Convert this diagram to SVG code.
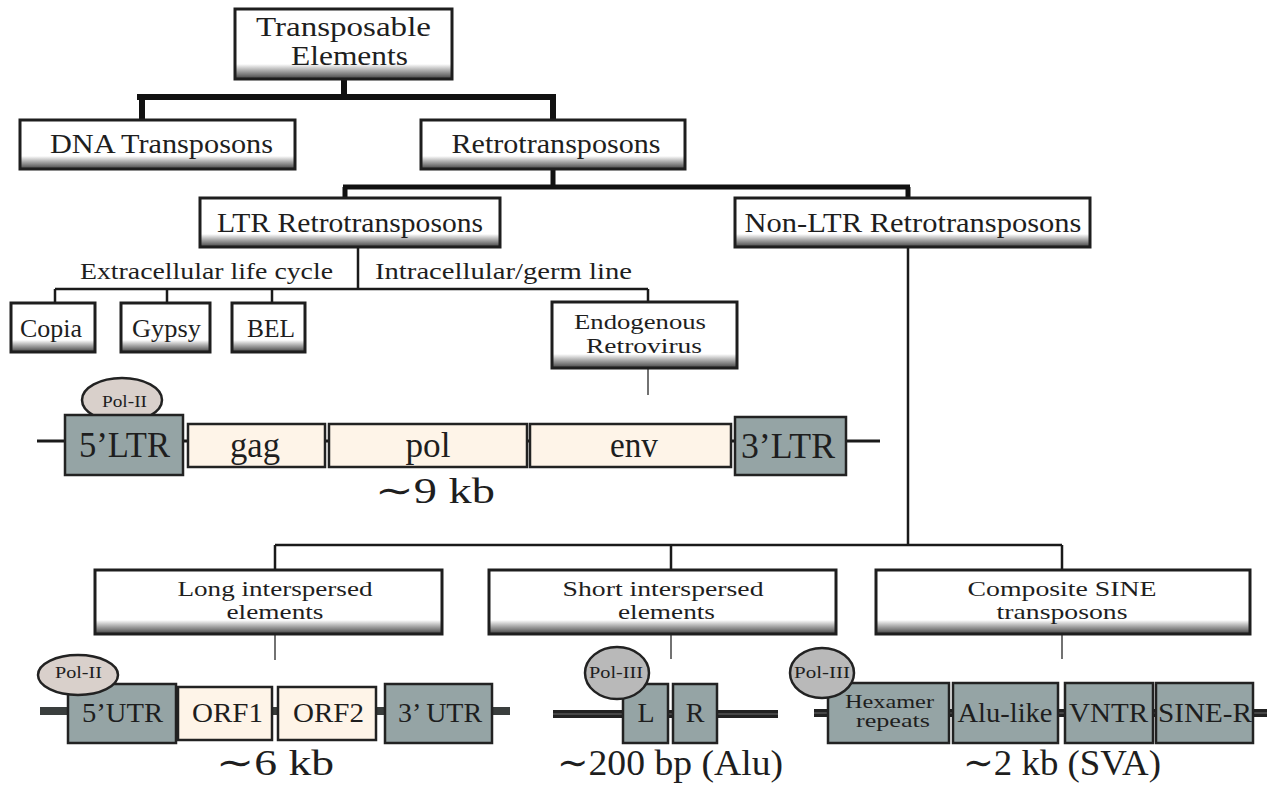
<svg xmlns="http://www.w3.org/2000/svg" width="1269" height="798" viewBox="0 0 1269 798">
<defs>
<linearGradient id="strip" x1="0" y1="0" x2="0" y2="1">
<stop offset="0" stop-color="#ffffff"/>
<stop offset="0.2" stop-color="#d8d8d8"/>
<stop offset="0.45" stop-color="#a8a8a8"/>
<stop offset="0.7" stop-color="#7a7a7a"/>
<stop offset="1" stop-color="#404040"/>
</linearGradient>
</defs>
<style>
text{font-family:"Liberation Serif","DejaVu Serif",serif;fill:#1e1e1e;text-anchor:middle}
.bx{fill:#fff}
.st{fill:url(#strip)}
.bd{fill:none;stroke:#1e1e1e;stroke-width:3}
.t28{font-size:28px}
.t25{font-size:25px}
.t22{font-size:22px}
.t24{font-size:24px}
.t19{font-size:19px}
.t17{font-size:17px}
.t36{font-size:36px}
.thick{stroke:#111;stroke-width:6;fill:none}
.thick2{stroke:#111;stroke-width:5;fill:none}
.thin{stroke:#1a1a1a;stroke-width:2.5;fill:none}
.hair{stroke:#444;stroke-width:1.5;fill:none}
.gr{fill:#95a4a5;stroke:#222;stroke-width:2.5}
.cr{fill:#fef4e8;stroke:#222;stroke-width:2.5}
.p2{fill:#d9d0cb;stroke:#222;stroke-width:2.5}
.p3{fill:#b9b9b9;stroke:#222;stroke-width:2.5}
.bl{stroke:#1a1a1a;stroke-width:3}
.bl2{stroke:#3a3e3d;stroke-width:8}
.bl3{stroke:#222;stroke-width:8}
.bl3c{stroke:#555;stroke-width:1.5}
</style>

<g id="connectors">
<path class="thick" d="M344 79V97M137 97H556M142 97V120M553 97V120"/>
<path class="thick2" d="M553 168V187M343 187H910M345 187V198M908 187V198"/>
<path class="thin" d="M358 247V289M55 289H648M55 289V303M167 289V303M272 289V303M648 289V302"/>
<path class="thin" d="M908 247V545M275 545H1062M275 545V570M671 545V570M1062 545V570"/>
<path class="hair" d="M648 368V395M275 634V660M671 634V659M1062 634V659"/>
</g>

<g id="n-te">
<rect class="bx" x="235" y="9" width="217" height="70"/>
<rect class="st" x="235" y="64" width="217" height="15"/>
<rect class="bd" x="235" y="9" width="217" height="70"/>
<text class="t28" x="343.5" y="36" textLength="175" lengthAdjust="spacingAndGlyphs">Transposable</text>
<text class="t28" x="349.5" y="65" textLength="117" lengthAdjust="spacingAndGlyphs">Elements</text>
</g>

<g id="n-dna">
<rect class="bx" x="20" y="120" width="275" height="49"/>
<rect class="st" x="20" y="156" width="275" height="13"/>
<rect class="bd" x="20" y="120" width="275" height="49"/>
<text class="t28" x="161.5" y="153" textLength="223" lengthAdjust="spacingAndGlyphs">DNA Transposons</text>
</g>

<g id="n-retro">
<rect class="bx" x="421" y="120" width="264" height="49"/>
<rect class="st" x="421" y="156" width="264" height="13"/>
<rect class="bd" x="421" y="120" width="264" height="49"/>
<text class="t28" x="556" y="153" textLength="209" lengthAdjust="spacingAndGlyphs">Retrotransposons</text>
</g>

<g id="n-ltr">
<rect class="bx" x="200" y="198" width="300" height="49"/>
<rect class="st" x="200" y="234" width="300" height="13"/>
<rect class="bd" x="200" y="198" width="300" height="49"/>
<text class="t28" x="350" y="232" textLength="266" lengthAdjust="spacingAndGlyphs">LTR Retrotransposons</text>
</g>

<g id="n-nonltr">
<rect class="bx" x="735" y="198" width="355" height="49"/>
<rect class="st" x="735" y="234" width="355" height="13"/>
<rect class="bd" x="735" y="198" width="355" height="49"/>
<text class="t28" x="913" y="232" textLength="337" lengthAdjust="spacingAndGlyphs">Non-LTR Retrotransposons</text>
</g>

<g id="labels-ltr">
<text class="t24" x="206.5" y="279" textLength="253" lengthAdjust="spacingAndGlyphs">Extracellular life cycle</text>
<text class="t24" x="503.5" y="279" textLength="257" lengthAdjust="spacingAndGlyphs">Intracellular/germ line</text>
</g>

<g id="n-copia">
<rect class="bx" x="11" y="303" width="84" height="49"/>
<rect class="st" x="11" y="340" width="84" height="12"/>
<rect class="bd" x="11" y="303" width="84" height="49"/>
<text class="t25" x="51" y="337" textLength="62" lengthAdjust="spacingAndGlyphs">Copia</text>
</g>

<g id="n-gypsy">
<rect class="bx" x="121" y="303" width="89" height="49"/>
<rect class="st" x="121" y="340" width="89" height="12"/>
<rect class="bd" x="121" y="303" width="89" height="49"/>
<text class="t25" x="166.5" y="337" textLength="69" lengthAdjust="spacingAndGlyphs">Gypsy</text>
</g>

<g id="n-bel">
<rect class="bx" x="232" y="303" width="73" height="49"/>
<rect class="st" x="232" y="340" width="73" height="12"/>
<rect class="bd" x="232" y="303" width="73" height="49"/>
<text class="t25" x="271" y="337" textLength="48" lengthAdjust="spacingAndGlyphs">BEL</text>
</g>

<g id="n-erv">
<rect class="bx" x="552" y="302" width="185" height="66"/>
<rect class="st" x="552" y="354" width="185" height="14"/>
<rect class="bd" x="552" y="302" width="185" height="66"/>
<text class="t22" x="640" y="329" textLength="132" lengthAdjust="spacingAndGlyphs">Endogenous</text>
<text class="t22" x="644" y="353" textLength="116" lengthAdjust="spacingAndGlyphs">Retrovirus</text>
</g>

<g id="erv-structure">
<line class="bl" x1="37" y1="441" x2="880" y2="441"/>
<ellipse class="p2" cx="122" cy="400" rx="40" ry="22"/>
<text class="t17" x="124.5" y="407" textLength="45" lengthAdjust="spacingAndGlyphs">Pol-II</text>
<rect class="gr" x="65" y="415" width="118" height="60"/>
<text class="t36" x="124.5" y="457" textLength="91" lengthAdjust="spacingAndGlyphs">5’LTR</text>
<rect class="cr" x="188" y="424" width="137" height="43"/>
<text class="t36" x="255" y="457" textLength="50" lengthAdjust="spacingAndGlyphs">gag</text>
<rect class="cr" x="329" y="424" width="198" height="43"/>
<text class="t36" x="428" y="457" textLength="45" lengthAdjust="spacingAndGlyphs">pol</text>
<rect class="cr" x="530" y="424" width="201" height="43"/>
<text class="t36" x="634" y="457" textLength="48" lengthAdjust="spacingAndGlyphs">env</text>
<rect class="gr" x="735" y="417" width="111" height="58"/>
<text class="t36" x="788" y="458" textLength="94" lengthAdjust="spacingAndGlyphs">3’LTR</text>
<text class="t36" x="435" y="503" textLength="120" lengthAdjust="spacingAndGlyphs">∼9 kb</text>
</g>

<g id="n-line">
<rect class="bx" x="95" y="570" width="347" height="64"/>
<rect class="st" x="95" y="620" width="347" height="14"/>
<rect class="bd" x="95" y="570" width="347" height="64"/>
<text class="t22" x="275" y="596" textLength="195" lengthAdjust="spacingAndGlyphs">Long interspersed</text>
<text class="t22" x="275" y="619" textLength="97" lengthAdjust="spacingAndGlyphs">elements</text>
</g>

<g id="n-sine">
<rect class="bx" x="489" y="570" width="347" height="64"/>
<rect class="st" x="489" y="620" width="347" height="14"/>
<rect class="bd" x="489" y="570" width="347" height="64"/>
<text class="t22" x="663" y="596" textLength="201" lengthAdjust="spacingAndGlyphs">Short interspersed</text>
<text class="t22" x="666.5" y="619" textLength="97" lengthAdjust="spacingAndGlyphs">elements</text>
</g>

<g id="n-sva">
<rect class="bx" x="876" y="570" width="374" height="64"/>
<rect class="st" x="876" y="620" width="374" height="14"/>
<rect class="bd" x="876" y="570" width="374" height="64"/>
<text class="t22" x="1062" y="596" textLength="189" lengthAdjust="spacingAndGlyphs">Composite SINE</text>
<text class="t22" x="1062" y="619" textLength="131" lengthAdjust="spacingAndGlyphs">transposons</text>
</g>

<g id="line-structure">
<line class="bl2" x1="40" y1="711" x2="510" y2="711"/>
<rect class="gr" x="68" y="684" width="108" height="59"/>
<text class="t28" x="122.5" y="722" textLength="81" lengthAdjust="spacingAndGlyphs">5’UTR</text>
<rect class="cr" x="178" y="687" width="94" height="53"/>
<text class="t28" x="227.5" y="722" textLength="71" lengthAdjust="spacingAndGlyphs">ORF1</text>
<rect class="cr" x="278" y="687" width="98" height="53"/>
<text class="t28" x="328.5" y="722" textLength="71" lengthAdjust="spacingAndGlyphs">ORF2</text>
<rect class="gr" x="385" y="684" width="107" height="59"/>
<text class="t28" x="440" y="722" textLength="84" lengthAdjust="spacingAndGlyphs">3’ UTR</text>
<ellipse class="p2" cx="78" cy="675" rx="40" ry="20"/>
<text class="t17" x="78.5" y="678" textLength="47" lengthAdjust="spacingAndGlyphs">Pol-II</text>
<text class="t36" x="275" y="775" textLength="118" lengthAdjust="spacingAndGlyphs">∼6 kb</text>
</g>

<g id="sine-structure">
<line class="bl3" x1="553" y1="714" x2="778" y2="714"/>
<line class="bl3c" x1="553" y1="714" x2="778" y2="714"/>
<rect class="gr" x="623" y="684" width="45" height="59"/>
<text class="t28" x="646" y="722">L</text>
<rect class="gr" x="673" y="684" width="44" height="59"/>
<text class="t28" x="695" y="722">R</text>
<ellipse class="p3" cx="617" cy="673" rx="32" ry="26"/>
<text class="t17" x="616" y="678" textLength="54" lengthAdjust="spacingAndGlyphs">Pol-III</text>
<text class="t36" x="670" y="775" textLength="226" lengthAdjust="spacingAndGlyphs">∼200 bp (Alu)</text>
</g>

<g id="sva-structure">
<line class="bl3" x1="814" y1="713" x2="1267" y2="713"/>
<line class="bl3c" x1="814" y1="713" x2="1267" y2="713"/>
<rect class="gr" x="828" y="683" width="121" height="60"/>
<text class="t19" x="889.5" y="708" textLength="89" lengthAdjust="spacingAndGlyphs">Hexamer</text>
<text class="t19" x="893" y="727" textLength="74" lengthAdjust="spacingAndGlyphs">repeats</text>
<rect class="gr" x="953" y="683" width="105" height="60"/>
<text class="t28" x="1005" y="722" textLength="95" lengthAdjust="spacingAndGlyphs">Alu-like</text>
<rect class="gr" x="1065" y="683" width="88" height="60"/>
<text class="t28" x="1108.5" y="722" textLength="79" lengthAdjust="spacingAndGlyphs">VNTR</text>
<rect class="gr" x="1156" y="683" width="97" height="60"/>
<text class="t28" x="1205" y="722" textLength="94" lengthAdjust="spacingAndGlyphs">SINE-R</text>
<ellipse class="p3" cx="822" cy="673" rx="32" ry="25"/>
<text class="t17" x="822" y="678" textLength="56" lengthAdjust="spacingAndGlyphs">Pol-III</text>
<text class="t36" x="1062" y="775" textLength="198" lengthAdjust="spacingAndGlyphs">∼2 kb (SVA)</text>
</g>
</svg>
